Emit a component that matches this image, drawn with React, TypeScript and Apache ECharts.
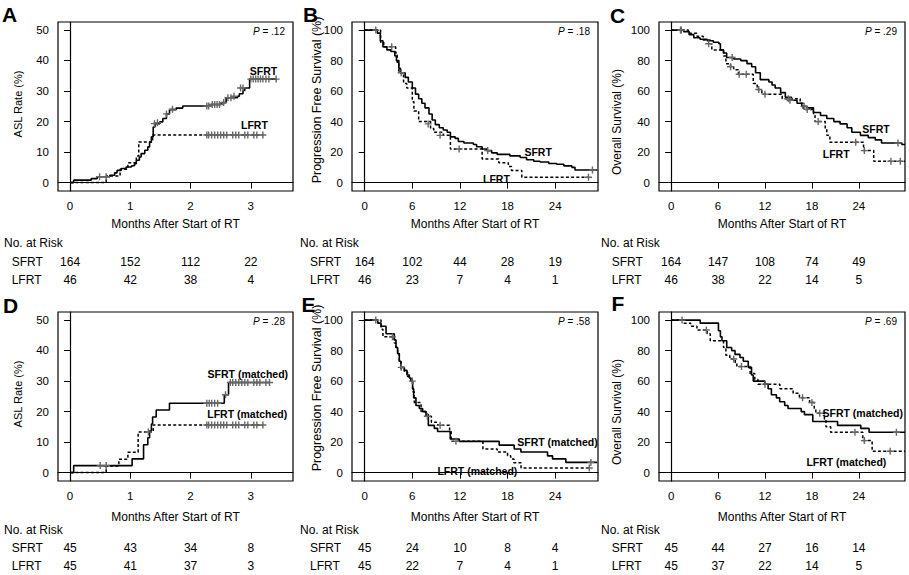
import React, { useEffect, useRef } from 'react';
import * as echarts from 'echarts';

// ---------- DATA ----------
// Panel A: ASL rate (%), all patients
const aSFRT = [[0,0],[0.06,0.8],[0.35,1.3],[0.45,1.9],[0.66,2.4],[0.74,3.2],[0.78,4.0],[0.85,4.6],[0.93,5.1],[1.02,5.5],[1.07,6.2],[1.1,7.3],[1.15,8.4],[1.18,9.5],[1.24,10.6],[1.29,11.7],[1.32,13.3],[1.35,15.0],[1.38,18.2],[1.41,19.3],[1.49,19.9],[1.54,21.0],[1.6,22.5],[1.65,23.9],[1.76,24.4],[1.87,25.1],[2.33,25.6],[2.51,26.2],[2.59,27.8],[2.78,28.3],[2.81,29.1],[2.87,30.2],[2.9,31.0],[2.98,33.9],[3.42,33.9]];
const aLFRT = [[0,0],[0.6,2.2],[0.83,4.4],[0.96,6.5],[1.1,8.7],[1.14,13.3],[1.37,15.6],[3.2,15.6]];
const aSFRTCens = [[0.49,1.9],[0.6,1.9],[1.4,19.3],[1.45,19.6],[1.6,22.5],[1.7,24],[2.27,25.1],[2.3,25.1],[2.36,25.6],[2.4,25.6],[2.44,25.6],[2.48,25.6],[2.55,26.2],[2.62,27.8],[2.67,27.8],[2.72,28.3],[2.83,31],[2.87,31],[3.0,33.9],[3.04,33.9],[3.08,33.9],[3.12,33.9],[3.16,33.9],[3.2,33.9],[3.25,33.9],[3.3,33.9],[3.42,33.9]];
const aLFRTCens = [[2.27,15.6],[2.3,15.6],[2.35,15.6],[2.4,15.6],[2.45,15.6],[2.5,15.6],[2.55,15.6],[2.6,15.6],[2.7,15.6],[2.75,15.6],[2.8,15.6],[2.9,15.6],[2.95,15.6],[3.05,15.6],[3.1,15.6],[3.2,15.6]];

// Panel B: progression free survival (%), all patients
const bSFRT = [[0,100],[1.6,98],[1.97,93],[2.3,89],[2.8,87],[3.3,86],[3.8,83],[4.0,80],[4.3,75],[4.5,72],[5.1,69],[5.5,66],[6.0,62],[6.4,58],[6.8,55],[7.2,52],[7.6,49],[8.1,45],[8.5,41],[8.9,38],[9.4,36],[9.9,34.5],[10.4,33],[10.8,30],[11.4,29],[11.8,27],[12.5,26],[13.7,25],[14.1,23.5],[14.8,22],[15.4,21],[16.0,19.5],[16.7,18.5],[18.3,17.5],[19.6,16.5],[20.4,15],[21.3,14],[22.1,13.5],[23.2,12.5],[24.2,12],[25.1,11],[26.1,10],[26.5,8.3],[29.3,8.3]];
const bLFRT = [[0,100],[2.0,92],[2.4,89],[3.9,85],[4.1,78],[4.3,72],[4.9,65],[5.3,62],[6.0,53],[6.2,47],[6.8,40],[8.3,35.5],[8.7,33],[9.9,31],[10.8,22],[14.8,15.5],[16.9,13],[18.1,10.5],[18.5,8],[19.8,3.5],[28.2,3.5]];
const bSFRTCens = [[1.4,100],[4.6,72],[15.5,21],[28.7,8.3]];
const bLFRTCens = [[3.4,89],[8.0,38.5],[9.5,31],[11.9,22],[28.2,3.5]];

// Panel C: overall survival (%), all patients
const cSFRT = [[0,100],[1.6,99],[2.3,97],[2.9,95],[3.7,94],[4.6,93],[5.4,92],[6.1,91],[6.3,87],[6.7,85],[7.1,82],[8.0,81],[8.9,80],[9.7,78],[10.3,76],[10.8,72],[11.4,67.5],[12.5,66],[12.9,64],[13.3,62],[14.0,59],[14.6,56],[15.4,54],[16.1,52],[16.7,50],[17.4,49],[18.2,46],[19.1,44],[19.9,42],[20.8,40],[21.6,38.5],[22.5,36],[23.1,33],[24.2,31],[25.2,29.5],[26.1,28],[26.9,26],[29.5,25],[29.9,25]];
const cLFRT = [[0,100],[2.2,98],[3.3,96],[4.1,93.5],[5.0,91],[5.2,87],[6.7,83],[7.0,78],[7.6,76],[8.0,74],[8.6,71],[10.5,65],[11.0,61],[11.6,58],[14.2,55],[16.5,52],[16.9,48],[18.2,44],[18.4,40],[19.7,35],[19.9,31],[20.3,26.5],[24.6,21],[25.9,14],[29.9,14]];
const cSFRTCens = [[1.2,100],[7.8,82],[15.2,54],[17.0,50],[29.0,26]];
const cLFRTCens = [[1.3,100],[4.8,91],[7.6,76],[8.7,71],[9.6,71],[11.2,61],[12.0,58],[15.0,55],[17.4,48],[18.8,40],[23.6,26.5],[24.7,21],[28.1,14],[29.3,14]];

// Panel D: ASL rate (%), matched
const dSFRT = [[0,0],[0.06,2.3],[1.03,4.5],[1.22,9.1],[1.29,11.4],[1.32,13.6],[1.35,15.9],[1.37,18.2],[1.43,20.5],[1.65,22.7],[2.56,25.5],[2.63,29.5],[3.31,29.5]];
const dLFRT = [[0,0],[0.6,2.2],[0.81,4.4],[0.96,6.7],[1.13,13.3],[1.38,15.6],[3.2,15.6]];
const dSFRTCens = [[0.5,2.3],[0.6,2.3],[2.27,22.7],[2.31,22.7],[2.35,22.7],[2.4,22.7],[2.45,22.7],[2.58,25.5],[2.66,29.5],[2.7,29.5],[2.75,29.5],[2.8,29.5],[2.85,29.5],[2.9,29.5],[2.95,29.5],[3.05,29.5],[3.1,29.5],[3.15,29.5],[3.25,29.5],[3.31,29.5]];
const dLFRTCens = [[1.3,13.3],[2.27,15.6],[2.3,15.6],[2.35,15.6],[2.4,15.6],[2.45,15.6],[2.5,15.6],[2.55,15.6],[2.6,15.6],[2.7,15.6],[2.75,15.6],[2.8,15.6],[2.9,15.6],[2.95,15.6],[3.05,15.6],[3.1,15.6],[3.2,15.6]];

// Panel E: progression free survival (%), matched
const eSFRT = [[0,100],[1.64,98],[2.06,96],[2.69,91],[3.73,87],[3.94,82],[4.15,78],[4.36,73],[4.57,69],[4.99,67],[5.33,64],[5.62,62],[5.83,60],[6.04,55],[6.17,49],[6.46,44],[6.88,42],[7.3,40],[7.72,38],[8.02,31],[8.77,29],[9.19,27],[10.78,22],[11.92,20.5],[16.95,18],[18.84,15.5],[19.68,13.5],[23.04,11],[23.67,9],[25.35,6.7],[29.3,6.7]];
const eLFRT = [[0,100],[2.06,94],[2.3,89],[3.73,85],[3.94,82],[4.15,78],[4.36,73],[4.57,68],[5.0,66],[5.4,63],[5.8,60],[6.04,53],[6.25,46],[7.1,40],[7.7,37],[8.4,33],[9.2,31],[10.7,27],[10.9,20.5],[14.9,15.5],[16.7,13.5],[18.0,11],[18.4,9],[18.8,6.5],[19.7,3],[28.3,3]];
const eSFRTCens = [[1.4,100],[4.6,69],[6.0,60],[28.5,6.7]];
const eLFRTCens = [[3.5,89],[7.9,37],[9.5,31],[11.5,20.5],[28.3,3]];

// Panel F: overall survival (%), matched
const fSFRT = [[0,100],[3.72,98],[6.05,93],[6.3,89],[6.5,86.5],[7.11,82],[7.74,80],[8.17,77.5],[8.8,75.5],[9.23,73],[9.86,69],[10.28,64],[10.5,60],[11.98,58],[12.4,55],[12.82,51],[13.46,49],[13.88,46.5],[14.52,44],[14.94,42],[16.63,40],[17.05,38],[18.11,33.5],[21.28,31],[24.25,29],[25.31,26.5],[29.9,26.5]];
const fLFRT = [[0,100],[1.6,98],[2.5,96],[3.3,93.5],[4.6,91],[5.0,86.5],[6.7,82],[7.0,77],[7.5,74.5],[8.2,72],[8.4,69.5],[10.1,65],[10.7,61],[11.1,58],[13.9,55],[15.6,52],[16.4,49],[17.7,46],[18.3,42],[18.5,39],[19.6,35],[19.8,30],[20.4,26.5],[24.5,21],[25.7,14],[29.9,14]];
const fSFRTCens = [[28.8,26.5]];
const fLFRTCens = [[1.4,100],[4.5,93.5],[8.0,74.5],[9.0,69.5],[12.0,58],[16.8,49],[18.0,46],[19.0,39],[23.5,26.5],[24.7,21],[28.0,14]];

// Ticks
const ticksASL = [0, 1, 2, 3];
const ticksMonths = [0, 6, 12, 18, 24];
const yTicksASL = [0, 10, 20, 30, 40, 50];
const yTicksPct = [0, 20, 40, 60, 80, 100];

// Numbers at risk
const riskA_SFRT = [164, 152, 112, 22];
const riskA_LFRT = [46, 42, 38, 4];
const riskB_SFRT = [164, 102, 44, 28, 19];
const riskB_LFRT = [46, 23, 7, 4, 1];
const riskC_SFRT = [164, 147, 108, 74, 49];
const riskC_LFRT = [46, 38, 22, 14, 5];
const riskD_SFRT = [45, 43, 34, 8];
const riskD_LFRT = [45, 41, 37, 3];
const riskE_SFRT = [45, 24, 10, 8, 4];
const riskE_LFRT = [45, 22, 7, 4, 1];
const riskF_SFRT = [45, 44, 27, 16, 14];
const riskF_LFRT = [45, 37, 22, 14, 5];

// P values
const pValues = ['.12', '.18', '.29', '.28', '.58', '.69'];

// Curve labels [x, y, text]
const labelsA = [[3.21, 36.5, 'SFRT'], [3.06, 19.0, 'LFRT']];
const labelsB = [[21.85, 20.1, 'SFRT'], [16.6, 2.2, 'LFRT']];
const labelsC = [[26.2, 35, 'SFRT'], [21.1, 18.8, 'LFRT']];
const labelsD = [[2.95, 32.4, 'SFRT (matched)'], [2.94, 19.05, 'LFRT (matched)']];
const labelsE = [[24.3, 20.3, 'SFRT (matched)'], [14.2, 1.1, 'LFRT (matched)']];
const labelsF = [[24.5, 38.9, 'SFRT (matched)'], [22.4, 7.2, 'LFRT (matched)']];

const yTitles = ['ASL Rate (%)', 'Progression Free Survival (%)', 'Overall Survival (%)'];

// ---------- LAYOUT ----------
const FONT = '"Liberation Sans", Arial, Helvetica, sans-serif';
const PLUS = 'path://M4,0H6V4H10V6H6V10H4V6H0V4H4Z';

const rowTop = { box: 22, title: 224.3, noRisk: 243.3, sfrt: 262, lfrt: 279.5 };
const rowBot = { box: 312, title: 517, noRisk: 529.7, sfrt: 548, lfrt: 565.7 };
const cols = [
  { left: 58, width: 235, xMin: -0.2, xMax: 3.7, labelX: 4, rowLabelX: 11.7, ytX: 18, ytSize: 11 },
  { left: 352, width: 246, xMin: -1.6, xMax: 29.4, labelX: 300, rowLabelX: 310, ytX: 316.7, ytSize: 12.5 },
  { left: 659, width: 246, xMin: -1.55, xMax: 29.9, labelX: 601, rowLabelX: 611.7, ytX: 616.7, ytSize: 12 },
];

const panels = [
  { letter: 'A', lx: 2, ly: 14.5, col: 0, row: rowTop, s: aSFRT, l: aLFRT, sc: aSFRTCens, lc: aLFRTCens, ticks: ticksASL, yTicks: yTicksASL, yMin: -2.75, yMax: 52.6, rs: riskA_SFRT, rl: riskA_LFRT, labels: labelsA, ytY: 104 },
  { letter: 'B', lx: 303, ly: 14, col: 1, row: rowTop, s: bSFRT, l: bLFRT, sc: bSFRTCens, lc: bLFRTCens, ticks: ticksMonths, yTicks: yTicksPct, yMin: -5.5, yMax: 105.3, rs: riskB_SFRT, rl: riskB_LFRT, labels: labelsB, ytY: 100 },
  { letter: 'C', lx: 610, ly: 15, col: 2, row: rowTop, s: cSFRT, l: cLFRT, sc: cSFRTCens, lc: cLFRTCens, ticks: ticksMonths, yTicks: yTicksPct, yMin: -5.5, yMax: 105.3, rs: riskC_SFRT, rl: riskC_LFRT, labels: labelsC, ytY: 122 },
  { letter: 'D', lx: 3, ly: 305, col: 0, row: rowBot, s: dSFRT, l: dLFRT, sc: dSFRTCens, lc: dLFRTCens, ticks: ticksASL, yTicks: yTicksASL, yMin: -2.75, yMax: 52.6, rs: riskD_SFRT, rl: riskD_LFRT, labels: labelsD, ytY: 394 },
  { letter: 'E', lx: 301.5, ly: 304, col: 1, row: rowBot, s: eSFRT, l: eLFRT, sc: eSFRTCens, lc: eLFRTCens, ticks: ticksMonths, yTicks: yTicksPct, yMin: -5.5, yMax: 105.3, rs: riskE_SFRT, rl: riskE_LFRT, labels: labelsE, ytY: 388 },
  { letter: 'F', lx: 611.5, ly: 303.5, col: 2, row: rowBot, s: fSFRT, l: fLFRT, sc: fSFRTCens, lc: fLFRTCens, ticks: ticksMonths, yTicks: yTicksPct, yMin: -5.5, yMax: 105.3, rs: riskF_SFRT, rl: riskF_LFRT, labels: labelsF, ytY: 412 },
];

function txt(x: number, y: number, text: string, fontSize: number, align = 'left', extra: any = {}) {
  return {
    type: 'text', x, y, silent: true, ...extra,
    style: { text, fontSize, fontFamily: FONT, fill: '#000', align, textAlign: align, verticalAlign: 'middle', textVerticalAlign: 'middle', ...(extra.style || {}) },
  };
}

function buildOption() {
  const grid: any[] = [], xAxis: any[] = [], yAxis: any[] = [], series: any[] = [], graphic: any[] = [];
  panels.forEach((p, i) => {
    const c = cols[p.col];
    const gi = i * 2, ri = i * 2 + 1;
    grid.push({ left: c.left, top: p.row.box, width: c.width, height: 169, show: true, borderColor: '#000', borderWidth: 1.2, backgroundColor: 'transparent' });
    grid.push({ left: c.left, top: p.row.sfrt, width: c.width, height: p.row.lfrt - p.row.sfrt, show: false });
    xAxis.push({
      type: 'value', gridIndex: gi, min: c.xMin, max: c.xMax,
      axisLine: { show: true, lineStyle: { color: '#000', width: 1.2 } },
      axisTick: { show: true, inside: false, length: 6, lineStyle: { color: '#000', width: 1 }, customValues: p.ticks },
      axisLabel: { show: true, customValues: p.ticks, margin: 9, fontSize: 11.5, color: '#000', fontFamily: FONT },
      splitLine: { show: false },
    });
    xAxis.push({ type: 'value', gridIndex: ri, min: c.xMin, max: c.xMax, show: false });
    yAxis.push({
      type: 'value', gridIndex: gi, min: p.yMin, max: p.yMax,
      axisLine: { show: true, lineStyle: { color: '#000', width: 1.2 } },
      axisTick: { show: true, inside: false, length: 6, lineStyle: { color: '#000', width: 1 }, customValues: p.yTicks },
      axisLabel: { show: true, customValues: p.yTicks, margin: 9, fontSize: 11.5, color: '#000', fontFamily: FONT },
      splitLine: { show: false },
    });
    yAxis.push({ type: 'value', gridIndex: ri, min: 0, max: 1, inverse: true, show: false });

    series.push({ type: 'line', xAxisIndex: gi, yAxisIndex: gi, data: p.s, step: 'end', symbol: 'none', silent: true, lineStyle: { color: '#000', width: 1.6 }, z: 3 });
    series.push({ type: 'line', xAxisIndex: gi, yAxisIndex: gi, data: p.l, step: 'end', symbol: 'none', silent: true, lineStyle: { color: '#000', width: 1.5, type: [3, 2.2] }, z: 3 });
    series.push({ type: 'scatter', xAxisIndex: gi, yAxisIndex: gi, data: p.sc, symbol: PLUS, symbolSize: 7, silent: true, itemStyle: { color: '#666', opacity: 1 }, z: 4 });
    series.push({ type: 'scatter', xAxisIndex: gi, yAxisIndex: gi, data: p.lc, symbol: PLUS, symbolSize: 7, silent: true, itemStyle: { color: '#666', opacity: 1 }, z: 4 });
    series.push({
      type: 'scatter', xAxisIndex: gi, yAxisIndex: gi, data: p.labels, symbolSize: 1, silent: true,
      itemStyle: { color: 'rgba(0,0,0,0)', opacity: 1 }, z: 5,
      label: { show: true, position: 'inside', formatter: (d: any) => d.value[2], fontSize: 10.5, fontWeight: 'bold', color: '#000', opacity: 1, fontFamily: FONT },
    });
    const riskData = (vals: number[], row: number) => vals.map((v, k) => [p.ticks[k], row, v]);
    series.push({
      type: 'scatter', xAxisIndex: ri, yAxisIndex: ri, data: [...riskData(p.rs, 0), ...riskData(p.rl, 1)], symbolSize: 1, silent: true,
      itemStyle: { color: 'rgba(0,0,0,0)', opacity: 1 },
      label: { show: true, position: 'inside', formatter: (d: any) => String(d.value[2]), fontSize: 12, color: '#000', opacity: 1, fontFamily: FONT },
    });

    const boxRight = c.left + c.width;
    const boxCenter = c.left + c.width / 2;
    graphic.push(txt(p.lx, p.ly, p.letter, 21, 'left', { style: { fontWeight: 'bold' } }));
    graphic.push(txt(boxRight - 8, p.row.box + 9.7, `{i|P} = ${pValues[i]}`, 10, 'right', { style: { rich: { i: { fontStyle: 'italic', fontSize: 10, fontFamily: FONT } } } }));
    graphic.push(txt(boxCenter, p.row.title, 'Months After Start of RT', 12, 'center'));
    graphic.push(txt(c.labelX, p.row.noRisk, 'No. at Risk', 12, 'left'));
    graphic.push(txt(c.rowLabelX, p.row.sfrt, 'SFRT', 12, 'left'));
    graphic.push(txt(c.rowLabelX, p.row.lfrt, 'LFRT', 12, 'left'));
    graphic.push(txt(c.ytX, p.ytY, yTitles[p.col], c.ytSize, 'center', { rotation: Math.PI / 2 }));
  });
  return { animation: false, backgroundColor: '#fff', grid, xAxis, yAxis, series, graphic };
}

export default function App() {
  const ref = useRef<HTMLDivElement>(null);
  useEffect(() => {
    if (!ref.current) return;
    const chart = echarts.init(ref.current, undefined, { renderer: 'svg' });
    chart.setOption(buildOption() as any);
    return () => chart.dispose();
  }, []);
  return <div ref={ref} style={{ position: 'absolute', left: 0, top: 0, width: 909, height: 575 }} />;
}
